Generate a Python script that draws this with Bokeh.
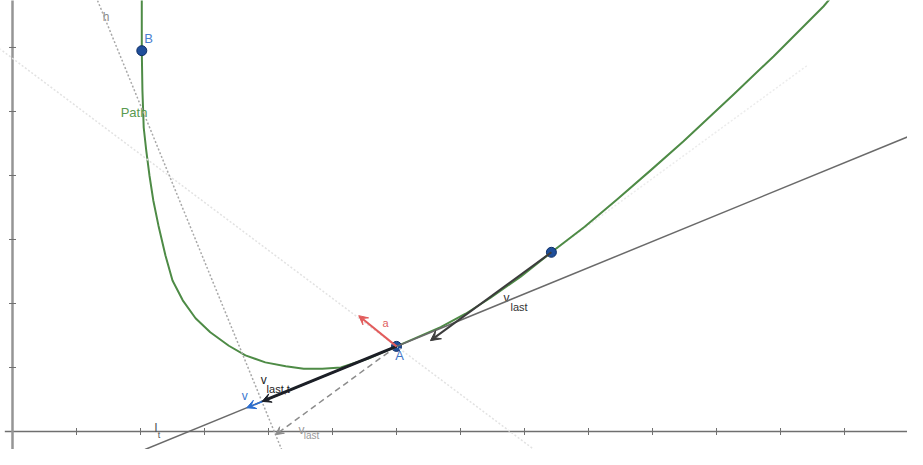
from bokeh.plotting import figure
from bokeh.models import Range1d, Arrow, VeeHead, Slope, ColumnDataSource
from bokeh.core.properties import value
from bokeh.embed import file_html
from bokeh.resources import INLINE

# ---- data (graph units) ----
path_x = [2.02, 2.02, 2.03, 2.05, 2.09, 2.14, 2.20, 2.28, 2.39, 2.50, 2.66, 2.86, 3.09, 3.38,
          3.64, 3.95, 4.27, 4.55, 4.84, 5.13, 5.56, 6.00, 6.69, 7.08, 7.47, 7.94, 8.42, 8.94,
          9.45, 9.97, 10.48, 11.27, 11.89, 12.67, 12.78]
path_y = [6.78, 5.95, 5.33, 4.75, 4.39, 4.00, 3.61, 3.22, 2.75, 2.36, 2.05, 1.77, 1.55, 1.34,
          1.19, 1.08, 1.02, 0.98, 0.98, 1.00, 1.14, 1.33, 1.63, 1.84, 2.09, 2.42, 2.80, 3.20,
          3.63, 4.08, 4.53, 5.27, 5.86, 6.64, 6.77]

pt_names = ["A", "B", "P"]
pt_x = [6.00, 2.02, 8.42]
pt_y = [1.33, 5.95, 2.80]

A = (6.00, 1.33)
P = (8.42, 2.80)
v_last = (-1.89, -1.38)          # vector drawn from P
v_last_t_end = (3.90, 0.47)       # projection onto tangent l_t
v_end = (3.66, 0.37)
a_end = (5.41, 1.81)
lt_slope = 0.41                   # tangent line l_t through A
faintA_slope = -0.75              # auxiliary line through A
x_ticks = list(range(1, 15))
y_ticks = list(range(1, 7))

lab_text = ["B", "Path", "A", "a", "v", "last", "v", "last,t", "v", "v", "last", "l", "t", "h"]
lab_x = [2.06, 1.69, 5.98, 5.78, 7.67, 7.78, 3.88, 3.97, 3.58, 4.47, 4.55, 2.22, 2.27, 1.41]
lab_y = [6.14, 4.98, 1.19, 1.70, 2.08, 1.95, 0.80, 0.67, 0.55, 0.02, -0.06, 0.06, -0.06, 6.48]
lab_color = ["#4a7fd0", "#5a9a50", "#3f74c6", "#e06060", "#333333", "#333333", "#222222",
             "#222222", "#3a78d0", "#9a9a9a", "#9a9a9a", "#555555", "#555555", "#8a8a8a"]
lab_size = ["13px", "13px", "13px", "11px", "12px", "11px", "12px", "11px", "12px", "12px",
            "10px", "13px", "9px", "12px"]

# ---- figure ----
p = figure(width=907, height=449, x_range=Range1d(-0.1875, 13.984), y_range=Range1d(-0.281, 6.734),
           output_backend="svg", toolbar_location=None, x_axis_location=None, y_axis_location=None,
           min_border=0, outline_line_color=None)
p.grid.visible = False
p.background_fill_color = "white"
p.border_fill_color = "white"

# axes
p.line([-0.12, 14.2], [0, 0], line_color="#6f6f6f", line_width=1.5)
p.line([0, 0], [-0.6, 6.8], line_color="#959595", line_width=2.5)
p.scatter(x=x_ticks, y=[0] * len(x_ticks), marker="dash", angle=1.5708, size=7, line_color="#6f6f6f", line_width=1)
p.scatter(x=[0] * len(y_ticks), y=y_ticks, marker="dash", size=7, line_color="#6f6f6f", line_width=1)

# auxiliary lines
tip = (A[0] + v_last[0], A[1] + v_last[1])
h_slope = -1.0 / lt_slope
vl_slope = v_last[1] / v_last[0]
p.add_layout(Slope(gradient=faintA_slope, y_intercept=A[1] - faintA_slope * A[0],
                   line_color="#e2e2e2", line_width=1.5, line_dash="2 2"))
p.line([P[0] + v_last[0], P[0] + 4.0], [P[1] + v_last[1], P[1] + 4.0 * vl_slope],
       line_color="#ececec", line_width=1.5, line_dash="2 2")
p.add_layout(Slope(gradient=h_slope, y_intercept=tip[1] - h_slope * tip[0],
                   line_color="#a8a8a8", line_width=1.5, line_dash="2 2"))
p.add_layout(Slope(gradient=lt_slope, y_intercept=A[1] - lt_slope * A[0],
                   line_color="#6a6a6a", line_width=1.5))

# path
p.line(path_x, path_y, line_color="#4e8b46", line_width=2, line_join="round")

# vectors
def vec(x0, y0, x1, y1, color, width, dash="solid", size=9):
    p.add_layout(Arrow(end=VeeHead(size=size, line_color=color, fill_color=color, line_width=1),
                       x_start=x0, y_start=y0, x_end=x1, y_end=y1,
                       line_color=color, line_width=width, line_dash=dash))

vec(A[0], A[1], tip[0], tip[1], "#8c8c8c", 1.5, "6 4", 8)
vec(P[0], P[1], P[0] + v_last[0], P[1] + v_last[1], "#3c3c3c", 2, size=10)
vec(A[0], A[1], v_end[0], v_end[1], "#2d6fd1", 1.5, size=9)
vec(A[0], A[1], v_last_t_end[0], v_last_t_end[1], "#1c1f26", 3, size=9)
vec(A[0], A[1], a_end[0], a_end[1], "#e25c5c", 2, size=9)

# points
p.scatter(pt_x, pt_y, size=10, fill_color="#1f4e9a", line_color="#0f2f66", line_width=1)

# labels
src = ColumnDataSource(dict(x=lab_x, y=lab_y, text=lab_text, color=lab_color, size=lab_size))
p.text(x="x", y="y", text="text", text_color="color", text_font_size="size", source=src,
       text_font=value("Liberation Sans"), text_baseline="middle", text_align="left")

open("out.html", "w").write(file_html(p, INLINE))
